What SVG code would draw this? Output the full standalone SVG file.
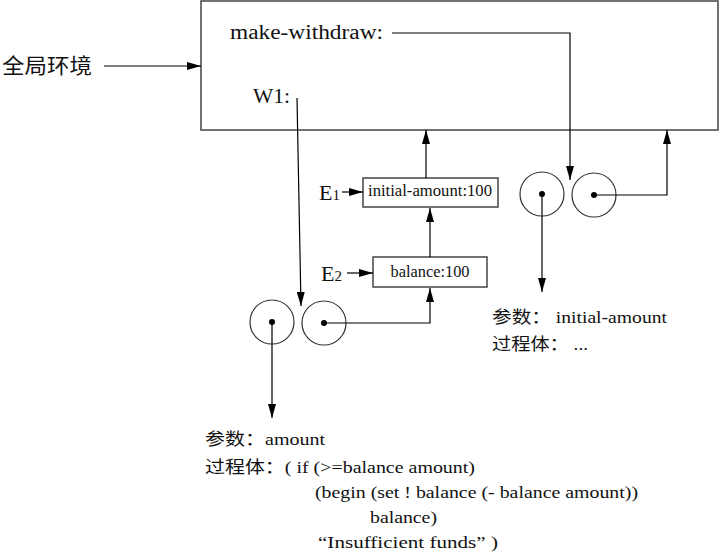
<svg xmlns="http://www.w3.org/2000/svg" width="719" height="553" viewBox="0 0 719 553">
<defs>
<marker id="ah" viewBox="0 0 14 8" refX="14" refY="4" markerWidth="14" markerHeight="8" markerUnits="userSpaceOnUse" orient="auto">
<path d="M0,0 L14,4 L0,8 Z" fill="#000"/>
</marker>
<style>
.t{font-family:"Liberation Serif","Noto Sans CJK SC",serif;fill:#111;}
.box{fill:#fff;stroke:#444;stroke-width:1.5;}
.c{fill:#fff;stroke:#333;stroke-width:1.2;}
.d{fill:#000;}
.ln{fill:none;stroke:#000;stroke-width:1.2;marker-end:url(#ah);}
</style>
</defs>
<rect width="719" height="553" fill="#fff"/>

<g id="global-env">
<rect class="box" x="201" y="1" width="517" height="129"/>
<text class="t" x="230" y="39" font-size="20" textLength="153" lengthAdjust="spacingAndGlyphs">make-withdraw:</text>
<text class="t" x="253" y="103" font-size="20" textLength="37" lengthAdjust="spacingAndGlyphs">W1:</text>
</g>

<g id="global-label">
<text class="t" x="2" y="73" font-size="21" textLength="90" lengthAdjust="spacingAndGlyphs">全局环境</text>
</g>

<g id="E1">
<rect class="box" x="363" y="178" width="135" height="29" stroke-width="1.2"/>
<text class="t" x="430" y="196" font-size="16" text-anchor="middle" textLength="124" lengthAdjust="spacingAndGlyphs">initial-amount:100</text>
<text class="t" x="319" y="200" font-size="22">E<tspan font-size="15">1</tspan></text>
</g>

<g id="E2">
<rect class="box" x="373" y="257" width="114" height="30" stroke-width="1.2"/>
<text class="t" x="430" y="277" font-size="16" text-anchor="middle" textLength="79" lengthAdjust="spacingAndGlyphs">balance:100</text>
<text class="t" x="321" y="281" font-size="22">E<tspan font-size="15">2</tspan></text>
</g>

<g id="proc-make-withdraw">
<circle class="c" cx="542" cy="194" r="22"/>
<circle class="d" cx="542" cy="194" r="3"/>
<circle class="c" cx="594" cy="195" r="22"/>
<circle class="d" cx="594" cy="195" r="3"/>
</g>

<g id="proc-W1">
<circle class="c" cx="272" cy="322" r="22"/>
<circle class="d" cx="272" cy="322" r="3"/>
<circle class="c" cx="324" cy="323" r="22"/>
<circle class="d" cx="324" cy="323" r="3"/>
</g>

<g id="params-make-withdraw">
<text class="t" x="492" y="323" font-size="17" textLength="175" lengthAdjust="spacingAndGlyphs">参数：  initial-amount</text>
<text class="t" x="492" y="350" font-size="17" textLength="96" lengthAdjust="spacingAndGlyphs">过程体：  ...</text>
</g>

<g id="params-W1">
<text class="t" x="205" y="445" font-size="17" textLength="120" lengthAdjust="spacingAndGlyphs">参数：amount</text>
<text class="t" x="205" y="473" font-size="17" textLength="270" lengthAdjust="spacingAndGlyphs">过程体：( if (&gt;=balance amount)</text>
<text class="t" x="315" y="498" font-size="17" textLength="323" lengthAdjust="spacingAndGlyphs">(begin (set ! balance (- balance amount))</text>
<text class="t" x="370" y="523" font-size="17" textLength="67" lengthAdjust="spacingAndGlyphs">balance)</text>
<text class="t" x="318" y="548" font-size="17" textLength="180" lengthAdjust="spacingAndGlyphs">“Insufficient funds” )</text>
</g>

<g id="connectors">
<path class="ln" d="M104,66 L201,66"/>
<path class="ln" d="M392,33 L570,33 L570,180"/>
<path class="ln" d="M297,98 L301,306"/>
<path class="ln" d="M426,178 L426,130"/>
<path class="ln" d="M430,257 L430,208"/>
<path class="ln" d="M342,192 L363,192"/>
<path class="ln" d="M347,273 L373,273"/>
<path class="ln" d="M324,323 L430,323 L430,288"/>
<path class="ln" d="M594,195 L667,195 L667,130"/>
<path class="ln" d="M272,322 L272,418"/>
<path class="ln" d="M542,194 L542,292"/>
</g>
</svg>
